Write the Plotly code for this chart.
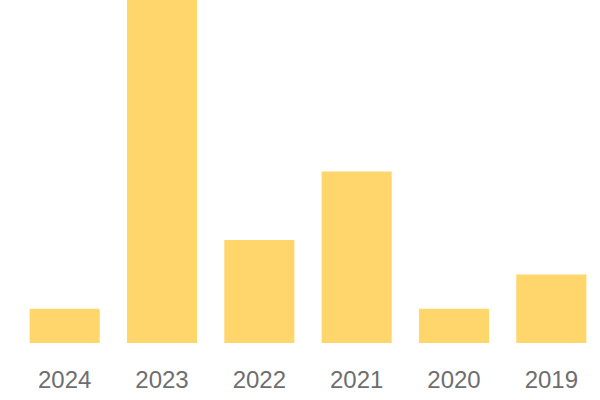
import plotly.graph_objects as go

years = ["2024", "2023", "2022", "2021", "2020", "2019"]
values = [1, 10, 3, 5, 1, 2]

fig = go.Figure(go.Bar(x=years, y=values, marker=dict(color="#FFD66B", line=dict(width=0)),
                       hoverinfo="skip"))
fig.update_layout(
    width=600, height=400,
    margin=dict(l=16, r=0, t=0, b=57),
    paper_bgcolor="white", plot_bgcolor="white",
    bargap=0.28,
    showlegend=False,
    font=dict(family="Liberation Sans", size=24, color="#6e6e6e"),
)
fig.update_xaxes(showgrid=False, showline=False, zeroline=False, ticks="", ticklabelstandoff=20)
fig.update_yaxes(visible=False, range=[0, 10], showgrid=False, zeroline=False)
fig.write_html("out.html", config={"displayModeBar": False},
               post_script="document.body.style.margin='0';")
